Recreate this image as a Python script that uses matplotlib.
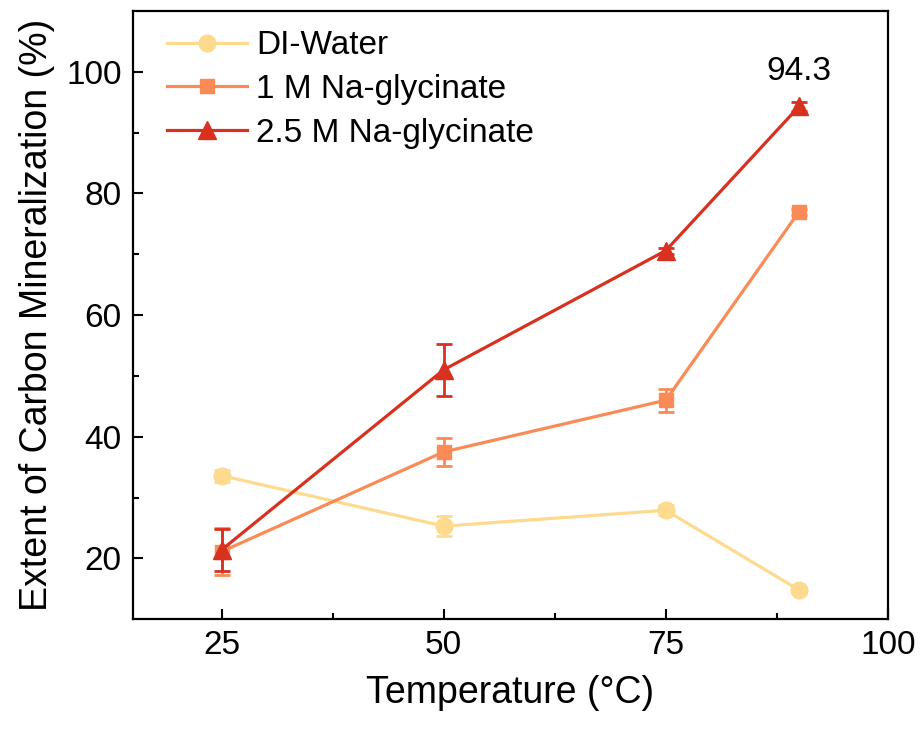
import numpy as np
import matplotlib.pyplot as plt
from matplotlib.lines import Line2D

plt.rcParams['font.family'] = ['Liberation Sans', 'DejaVu Sans']

# Temperatures (deg C) and extent of carbon mineralization (%)
temperature = [25, 50, 75, 90]

di_water = [33.6, 25.3, 27.9, 14.8]
di_water_err = [1.0, 1.6, 0.8, 0.5]

na_gly_1m = [21.1, 37.5, 46.0, 77.0]
na_gly_1m_err = [3.9, 2.3, 1.9, 0.5]

na_gly_25m = [21.4, 51.0, 70.6, 94.3]
na_gly_25m_err = [3.5, 4.3, 0.5, 0.8]

labels = ['DI-Water', '1 M Na-glycinate', '2.5 M Na-glycinate']
colors = ['#FDDA8E', '#FA8B57', '#D8311F']

fig = plt.figure(figsize=(9.22, 7.31), dpi=100)
ax = fig.add_axes([0.144, 0.153, 0.819, 0.832])

series = [(di_water, di_water_err, 'o', 12),
          (na_gly_1m, na_gly_1m_err, 's', 10.5),
          (na_gly_25m, na_gly_25m_err, '^', 12.5)]
handles = []
for i, (vals, errs, mk, ms) in enumerate(series):
    ax.errorbar(temperature, vals, yerr=errs, color=colors[i], marker=mk,
                markersize=ms, linewidth=2.3, elinewidth=2, capsize=6,
                capthick=2, zorder=3 + i)
    # legend entry without the error bar
    handles.append(Line2D([], [], color=colors[i], marker=mk, markersize=ms,
                          linewidth=2.3, label=labels[i]))

# label the top value
ax.annotate('%.1f' % na_gly_25m[-1], (temperature[-1], na_gly_25m[-1]),
            xytext=(0, 25), textcoords='offset points', ha='center',
            va='center', fontsize=24)

ax.set_xlim(15, 100)
ax.set_ylim(10, 110)
ax.set_xticks([25, 50, 75, 100])
ax.set_xticks([37.5, 62.5, 87.5], minor=True)
ax.set_yticks([20, 40, 60, 80, 100])
ax.set_yticks([30, 50, 70, 90], minor=True)
ax.tick_params(which='major', direction='in', length=7, width=1.5,
               labelsize=24, pad=8)
ax.tick_params(which='minor', direction='in', length=4, width=1.5)
for sp in ax.spines.values():
    sp.set_linewidth(1.6)

ax.set_xlabel('Temperature (°C)', fontsize=27, labelpad=10)
ax.set_ylabel('Extent of Carbon Mineralization (%)', fontsize=27, labelpad=8)

ax.legend(handles=handles, loc='upper left', bbox_to_anchor=(0.028, 0.99),
          borderaxespad=0, fontsize=24, frameon=False, handlelength=2.4,
          labelspacing=0.38, handletextpad=0.27)

fig.savefig('out.png', dpi=100)
